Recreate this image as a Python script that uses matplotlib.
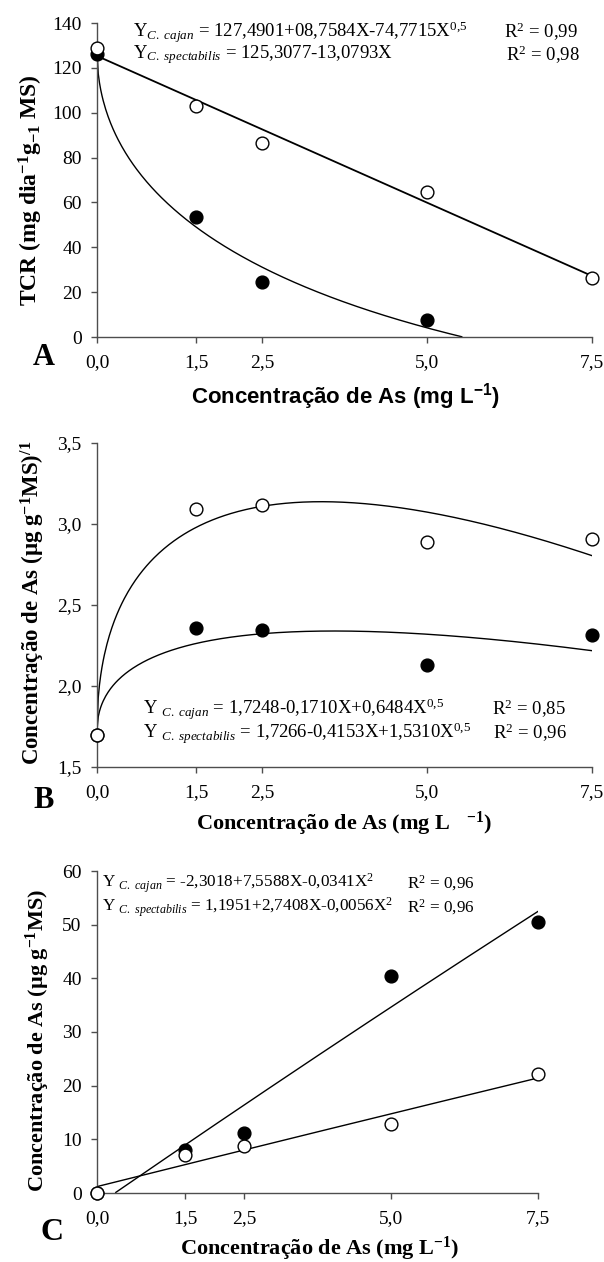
import numpy as np
import matplotlib
matplotlib.use('Agg')
import matplotlib.pyplot as plt

plt.rcParams['font.family'] = ['Liberation Serif', 'DejaVu Serif']
plt.rcParams['mathtext.fontset'] = 'custom'
plt.rcParams['mathtext.rm'] = 'Liberation Serif'
plt.rcParams['mathtext.it'] = 'Liberation Serif:italic'
plt.rcParams['mathtext.bf'] = 'Liberation Serif:bold'
plt.rcParams['mathtext.default'] = 'regular'

# doses de As (mg L-1)
doses = [0.0, 1.5, 2.5, 5.0, 7.5]
tick_labels = ['0,0', '1,5', '2,5', '5,0', '7,5']

# A - TCR
tcr_cajan_x = [0.0, 1.5, 2.5, 5.0]
tcr_cajan = [126, 53.5, 24.5, 7.5]
tcr_spect = [129, 103, 86.5, 64.5, 26.5]

# B
b_cajan = [1.70, 2.355, 2.345, 2.13, 2.315]
b_spect = [1.70, 3.09, 3.12, 2.89, 2.91]

# C
c_cajan = [0.0, 8.0, 11.2, 40.5, 50.5]
c_spect = [0.0, 7.0, 8.7, 12.8, 22.2]

W, H = 604, 1262
fig = plt.figure(figsize=(W / 100, H / 100), dpi=100)
AXC = '0.3'


def px(x, y):
    return x / W, 1 - y / H


def add_ax(x0, y0, x1, y1):
    return fig.add_axes([x0 / W, 1 - y1 / H, (x1 - x0) / W, (y1 - y0) / H])


def style(ax, ylim, yticks, ylabels):
    ax.set_xlim(0, 7.5)
    ax.set_ylim(*ylim)
    ax.set_xticks(doses)
    ax.set_xticklabels(tick_labels)
    ax.set_yticks(yticks)
    ax.set_yticklabels(ylabels)
    for s in ['top', 'right']:
        ax.spines[s].set_visible(False)
    for s in ['left', 'bottom']:
        ax.spines[s].set_linewidth(1.0)
        ax.spines[s].set_color(AXC)
    ax.tick_params(direction='out', length=4, width=1, color=AXC, labelsize=14)
    ax.tick_params(axis='x', pad=8)
    ax.tick_params(axis='y', pad=7)


def points(ax, x, y, filled):
    ax.plot(x, y, 'o', ms=9.2, mfc='black' if filled else 'white',
            mec='black', mew=1, clip_on=False, zorder=4 if filled else 5)


def eq(x, y, txt, size=13.5):
    fig.text(*px(x, y), txt, fontsize=size, va='center', ha='left')


def ylab(x, y, txt, size):
    fig.text(*px(x, y), txt, fontsize=size, fontweight='bold', rotation=90,
             ha='center', va='center')


xs = np.linspace(0, 7.5, 400)

# ---------- A ----------
ax = add_ax(97, 23, 592, 337)
style(ax, (0, 140), range(0, 141, 20), [str(v) for v in range(0, 141, 20)])
ya = 127.4901 + 8.7584 * xs - 74.7715 * xs ** 0.5
ya = np.where(ya >= 0, ya, np.nan)
ax.plot(xs, ya, color='black', lw=1)
ax.plot(xs, 125.3077 - 13.0793 * xs, color='black', lw=1.3)
points(ax, tcr_cajan_x, tcr_cajan, True)
points(ax, doses, tcr_spect, False)
ylab(31, 190, 'TCR (mg dia$^{-1}$g$_{-1}$ MS)', 17)
fig.text(*px(345, 397), 'Concentração de As (mg L$^{-1}$)', fontsize=16,
         fontweight='bold', family='Liberation Sans', ha='center', va='center')
fig.text(*px(44, 358), 'A', fontsize=22, fontweight='bold', ha='center', va='center')
eq(133, 32, r'Y$_{\mathit{C.\ cajan}}$ = 127,4901+08,7584X-74,7715X$^{0{,}5}$')
eq(133, 55, r'Y$_{\mathit{C.\ spectabilis}}$ = 125,3077-13,0793X')
eq(504, 32, r'R$^{2}$ = 0,99')
eq(506, 55, r'R$^{2}$ = 0,98')

# ---------- B ----------
ax = add_ax(97, 443, 592, 767)
style(ax, (1.5, 3.5), np.arange(1.5, 3.51, 0.5), ['1,5', '2,0', '2,5', '3,0', '3,5'])
yb1 = 1.7248 - 0.1710 * xs + 0.6484 * xs ** 0.5
yb2 = 1.7266 - 0.4153 * xs + 1.5310 * xs ** 0.5
ax.plot(xs, yb1, color='black', lw=1)
ax.plot(xs, yb2, color='black', lw=1)
points(ax, doses, b_cajan, True)
points(ax, doses, b_spect, False)
ylab(33, 603, 'Concentração de As (µg g$^{-1}$MS)$^{/1}$', 16.5)
fig.text(*px(344, 824), 'Concentração de As (mg L   $^{-1}$)', fontsize=16,
         fontweight='bold', ha='center', va='center')
fig.text(*px(44, 800), 'B', fontsize=22, fontweight='bold', ha='center', va='center')
eq(143, 709, r'Y $_{\mathit{C.\ cajan}}$ = 1,7248-0,1710X+0,6484X$^{0{,}5}$')
eq(143, 733, r'Y $_{\mathit{C.\ spectabilis}}$ = 1,7266-0,4153X+1,5310X$^{0{,}5}$')
eq(492, 709, r'R$^{2}$ = 0,85')
eq(493, 733, r'R$^{2}$ = 0,96')

# ---------- C ----------
ax = add_ax(97, 871, 538, 1193)
style(ax, (0, 60), range(0, 61, 10), [str(v) for v in range(0, 61, 10)])
yc1 = -2.3018 + 7.5588 * xs - 0.0341 * xs ** 2
yc1 = np.where(yc1 >= 0, yc1, np.nan)
yc2 = 1.1951 + 2.7408 * xs - 0.0056 * xs ** 2
ax.plot(xs, yc1, color='black', lw=1)
ax.plot(xs, yc2, color='black', lw=1)
points(ax, doses, c_cajan, True)
points(ax, doses, c_spect, False)
ylab(38, 1040, 'Concentração de As (µg g$^{-1}$MS)', 16)
fig.text(*px(320, 1249), 'Concentração de As (mg L$^{-1}$)', fontsize=16,
         fontweight='bold', ha='center', va='center')
fig.text(*px(52, 1233), 'C', fontsize=23, fontweight='bold', ha='center', va='center')
eq(102, 883, r'Y $_{\mathit{C.\ cajan}}$ = -2,3018+7,5588X-0,0341X$^{2}$', 12.3)
eq(102, 907, r'Y $_{\mathit{C.\ spectabilis}}$ = 1,1951+2,7408X-0,0056X$^{2}$', 12.3)
eq(407, 883, r'R$^{2}$ = 0,96', 12.3)
eq(407, 907, r'R$^{2}$ = 0,96', 12.3)

fig.savefig('out.png', dpi=100)
